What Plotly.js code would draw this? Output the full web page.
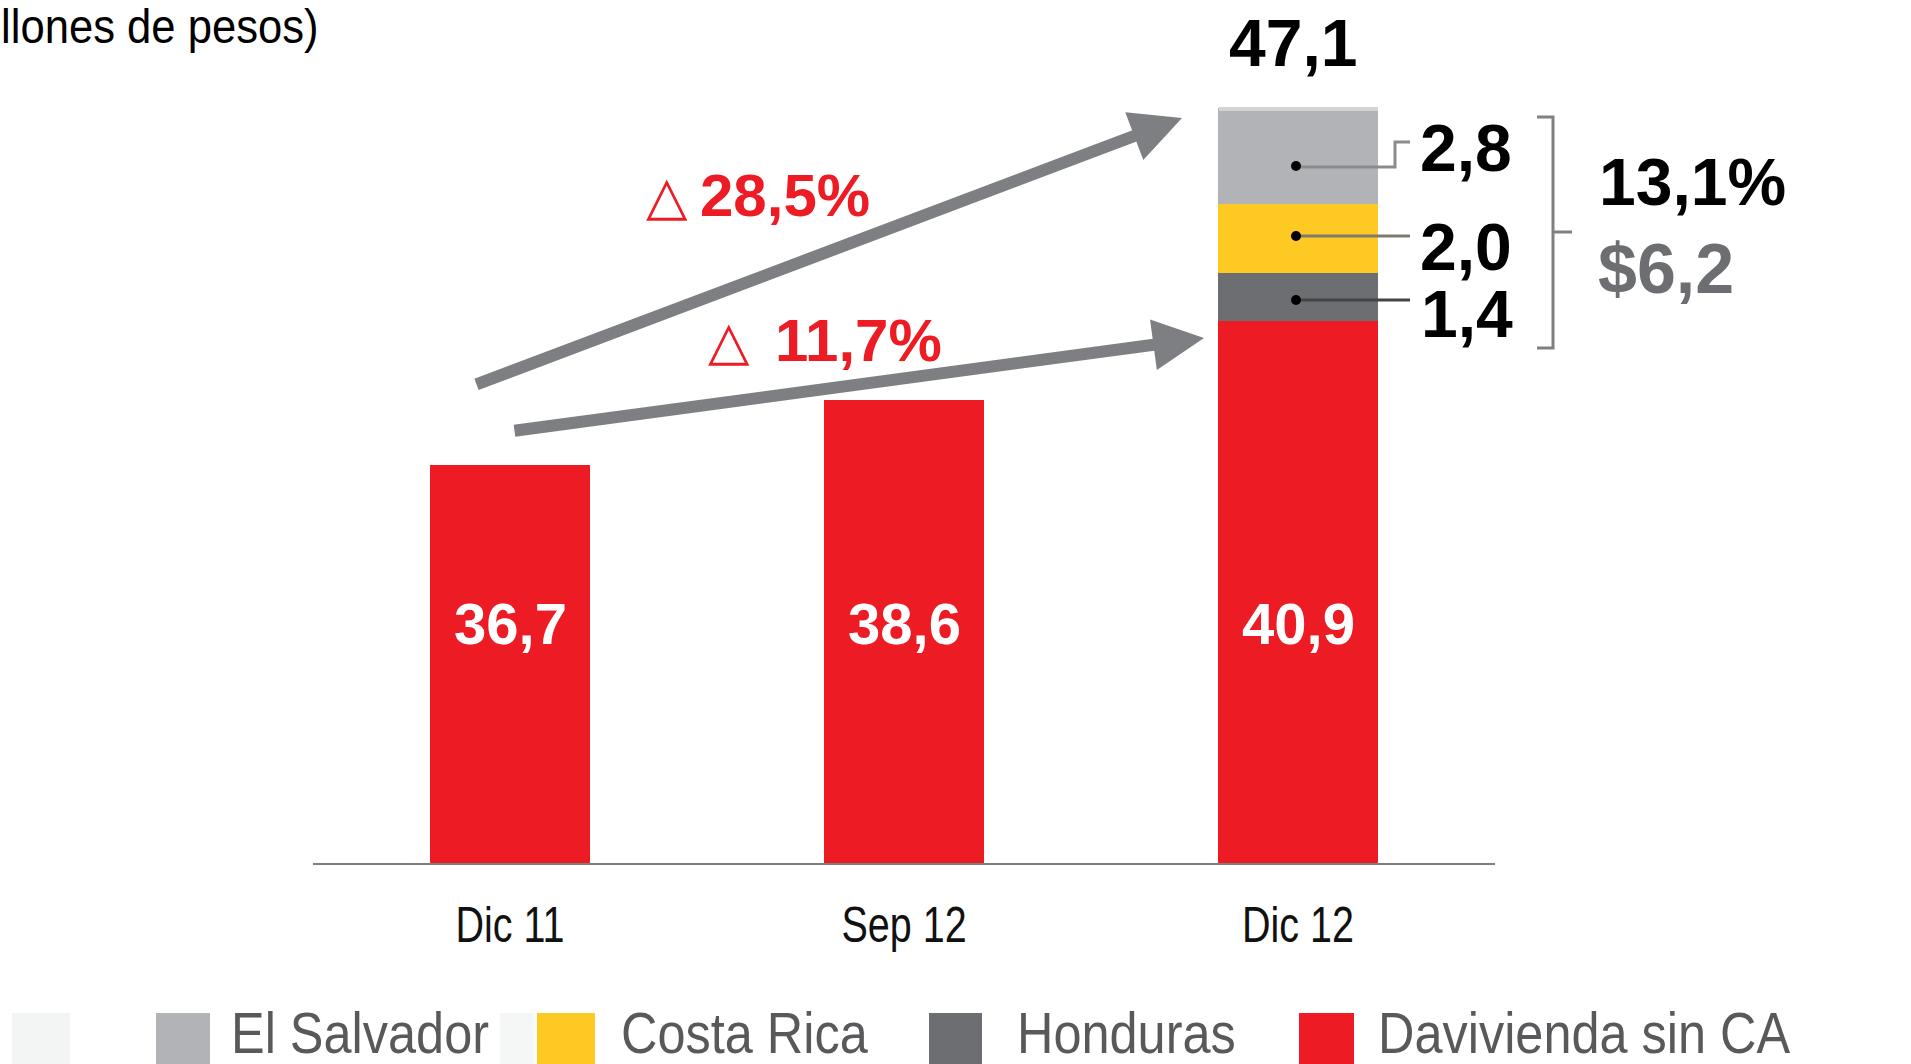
<!DOCTYPE html>
<html><head><meta charset="utf-8">
<script src="https://cdn.plot.ly/plotly-3.0.1.min.js"></script>
<style>html,body{margin:0;padding:0;background:#fff;overflow:hidden}#chart{width:1911px;height:1064px;}</style>
</head><body><div id="chart"></div>
<script>
// ---- data ----
const categories = ['Dic 11', 'Sep 12', 'Dic 12'];
const davivienda = [36.7, 38.6, 40.9];
const honduras   = [null, null, 1.4];
const costaRica  = [null, null, 2.0];
const elSalvador = [null, null, 2.8];
const seriesNames = ['El Salvador', 'Costa Rica', 'Honduras', 'Davivienda sin CA'];
const totalDic12 = 47.1;
const caShare = '13,1%';
const caAmount = '$6,2';
const growthYear = '28,5%';
const growthSep = '11,7%';
const unitsText = 'llones de pesos)';

// ---- styling ----
const colors = {'El Salvador':'#b1b3b6','Costa Rica':'#fec923','Honduras':'#6d6e71','Davivienda sin CA':'#ed1c24'};
const W = 1911, H = 1064;
const M = {l:313, r:416, t:40, b:201};
const PW = W - M.l - M.r, PH = H - M.t - M.b;
const yMin = 25.1, pxPerUnit = 34.3;
const yMax = yMin + PH / pxPerUnit;
const X = px => (px - M.l) / PW;
const Y = py => (H - M.b - py) / PH;
const fmt = v => v.toFixed(1).replace('.', ',');
const SANS = 'Liberation Sans, Arial, sans-serif';

function bar(name, vals){
  return {type:'bar', name:name, x:categories, y:vals, marker:{color:colors[name], line:{width:0}},
          hoverinfo:'skip', showlegend:false};
}
const traces = [
  bar('Davivienda sin CA', davivienda),
  bar('Honduras', honduras),
  bar('Costa Rica', costaRica),
  bar('El Salvador', elSalvador)
];

const ann = [];
const squeeze = {};   // annotation index -> horizontal condensing factor (narrow typeface look)
function txt(text, px, py, size, color, xanchor, weight, family, sq){
  const a = {text:text, xref:'paper', yref:'paper', x:X(px), y:Y(py), xanchor:xanchor||'center', yanchor:'middle',
            showarrow:false, borderpad:0, font:{size:size, color:color, family:family||SANS, weight:weight||'normal'}};
  if ((xanchor||'center') === 'left') a.align = 'left';
  if (sq) squeeze[ann.length] = sq;
  ann.push(a);
}
// units title (cut at left edge)
txt(unitsText, 0, 26, 49, '#000', 'left', 'normal', SANS, 0.89);
// bar value labels (inside bars)
const labelY = 623;
davivienda.forEach((v,i)=>{
  ann.push({text:fmt(v), xref:'x', x:categories[i], yref:'paper', y:Y(labelY), yanchor:'middle', showarrow:false,
            font:{size:58, color:'#fff', family:SANS, weight:'bold'}});
});
// total
txt(fmt(totalDic12), 1293, 43, 66, '#000', 'center', 'bold');
// segment labels
txt(fmt(elSalvador[2]), 1466, 148, 66, '#000', 'center', 'bold');
txt(fmt(costaRica[2]), 1466, 247, 66, '#000', 'center', 'bold');
txt(fmt(honduras[2]), 1467, 314, 66, '#000', 'center', 'bold');
// CA summary
txt(caShare, 1598, 182, 66, '#000', 'left', 'bold');
txt(caAmount, 1597, 269, 70, '#6d6e71', 'left', 'bold');
// growth labels
txt('\u25B3', 667, 195, 54, '#ed1c24', 'center', 'normal', 'DejaVu Sans, sans-serif');
txt(growthYear, 699, 195, 60, '#ed1c24', 'left', 'bold');
txt('\u25B3', 729, 340, 54, '#ed1c24', 'center', 'normal', 'DejaVu Sans, sans-serif');
txt(growthSep, 774, 340, 60, '#ed1c24', 'left', 'bold');
// arrows
function arrow(tx, ty, sx, sy){
  ann.push({text:'', xref:'paper', yref:'paper', x:X(tx), y:Y(ty), ax:sx-tx, ay:sy-ty, axref:'pixel', ayref:'pixel',
            showarrow:true, arrowhead:2, arrowsize:0.85, arrowwidth:12, arrowcolor:'#7e7f82', standoff:0, startstandoff:0});
}
arrow(1182, 118, 475, 385);
arrow(1204, 338, 513, 431);
// legend text
const legendItems = [
  {name:'El Salvador', sq:[156,210], tx:230},
  {name:'Costa Rica', sq:[537,595], tx:620},
  {name:'Honduras', sq:[929,982], tx:1016},
  {name:'Davivienda sin CA', sq:[1299,1354], tx:1377}
];
legendItems.forEach(it=> txt(it.name, it.tx, 1033, 57, '#58595b', 'left', 'normal', SANS, 0.885));

// shapes
const shapes = [];
function rectPx(x0,y0,x1,y1,color){
  shapes.push({type:'rect', xref:'paper', yref:'paper', x0:X(x0), x1:X(x1), y0:Y(y0), y1:Y(y1),
               fillcolor:color, line:{width:0}, layer:'above'});
}
function pathPx(pts, color, w){
  const d = pts.map((p,i)=>(i?'L':'M')+X(p[0])+','+Y(p[1])).join(' ');
  shapes.push({type:'path', xref:'paper', yref:'paper', path:d, line:{color:color, width:w}, layer:'above'});
}
function dotPx(cx, cy, r){
  shapes.push({type:'circle', xref:'paper', yref:'paper', x0:X(cx-r), x1:X(cx+r), y0:Y(cy+r), y1:Y(cy-r),
               fillcolor:'#000', line:{width:0}, layer:'above'});
}
// light top edge of the stacked bar
rectPx(1219, 107, 1378, 111, '#d3d4d6');
// leader lines
pathPx([[1296,167],[1395,167],[1395,142],[1410,142]], '#8a8b8d', 3);
pathPx([[1296,236],[1410,236]], '#7d7a70', 3);
pathPx([[1296,300],[1410,300]], '#444547', 3);
dotPx(1296,166,5); dotPx(1296,236,5); dotPx(1296,300,5);
// bracket
pathPx([[1537,117],[1553,117],[1553,348],[1537,348]], '#808080', 3);
pathPx([[1553,232],[1572,232]], '#808080', 3);
// legend squares (cut at bottom edge)
legendItems.forEach(it=> rectPx(it.sq[0], 1013, it.sq[1], 1070, colors[it.name]));
// faint scan ghosts
rectPx(12, 1013, 70, 1070, '#f3f5f5');
rectPx(500, 1013, 534, 1070, '#f5f6f6');

const layout = {
  width:W, height:H, margin:M, paper_bgcolor:'#fff', plot_bgcolor:'#fff',
  barmode:'stack', bargap:0.594, showlegend:false,
  xaxis:{type:'category', range:[-0.5, 2.5], showgrid:false, zeroline:false, showline:true, linecolor:'#7f7f7f', linewidth:2,
         ticks:'', ticklabelstandoff:17, tickfont:{family:SANS, size:50, color:'#111'}, fixedrange:true},
  yaxis:{range:[yMin, yMax], visible:false, showgrid:false, zeroline:false, fixedrange:true},
  annotations:ann, shapes:shapes
};
function condense(t, f){
  const w = t.getComputedTextLength();
  t.setAttribute('textLength', (w * f).toFixed(1));
  t.setAttribute('lengthAdjust', 'spacingAndGlyphs');
}
Plotly.newPlot('chart', traces, layout, {displayModeBar:false, staticPlot:true}).then(gd => {
  gd.querySelectorAll('g.annotation').forEach(g => {
    const i = +g.getAttribute('data-index');
    if (squeeze[i]) { const t = g.querySelector('text.annotation-text'); if (t) condense(t, squeeze[i]); }
  });
  gd.querySelectorAll('.xtick text').forEach(t => condense(t, 0.79));
});
</script></body></html>
